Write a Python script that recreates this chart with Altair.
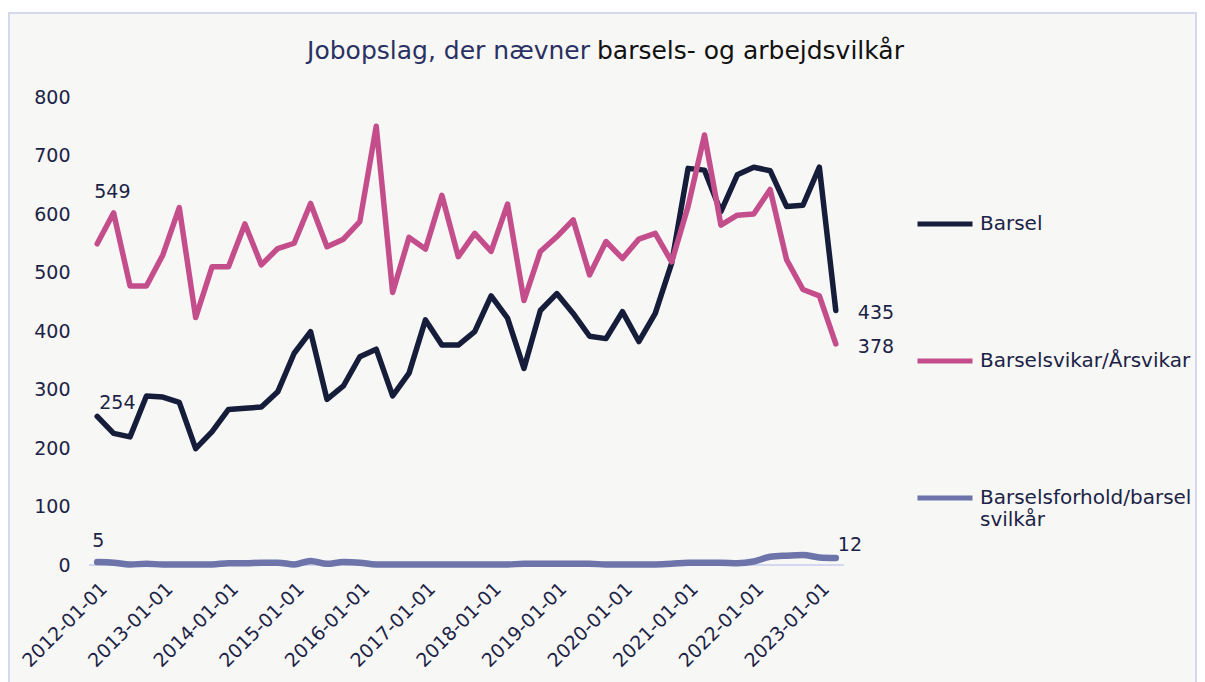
import altair as alt
import pandas as pd

# ---------------- data ----------------
quarters = [f"{y}-{m:02d}-01" for y in range(2012, 2024) for m in (1, 4, 7, 10)][:46]
year_ticks = [f"{y}-01-01" for y in range(2012, 2024)]

barsel = [254, 225, 219, 289, 287, 278, 199, 228, 266, 268, 270, 296, 362, 399, 283, 306,
          356, 369, 289, 328, 419, 376, 376, 399, 460, 422, 336, 435, 464, 430, 391, 387,
          433, 382, 430, 516, 678, 675, 604, 667, 680, 674, 613, 615, 680, 435]
vikar = [549, 602, 477, 477, 530, 611, 423, 510, 510, 583, 513, 541, 550, 618, 544, 557,
         587, 750, 466, 560, 540, 632, 527, 567, 536, 617, 452, 536, 561, 590, 496, 553,
         524, 557, 567, 518, 613, 735, 581, 598, 600, 642, 522, 471, 460, 378]
forhold = [5, 4, 1, 2, 1, 1, 1, 1, 3, 3, 4, 4, 1, 7, 2, 5,
           4, 1, 1, 1, 1, 1, 1, 1, 1, 1, 2, 2, 2, 2, 2, 1,
           1, 1, 1, 2, 4, 4, 4, 3, 6, 14, 16, 17, 13, 12]

names = ["Barsel", "Barselsvikar/Årsvikar", "Barselsforhold/barselsvilkår"]
colors = ["#161d3b", "#c44e8b", "#6c74a9"]

rows = []
for name, vals in zip(names, [barsel, vikar, forhold]):
    for q, v in zip(quarters, vals):
        rows.append({"date": q, "value": v, "series": name})
df = pd.DataFrame(rows)

lab_rows = []
for name, vals in zip(names, [barsel, vikar, forhold]):
    lab_rows.append({"date": quarters[0], "value": vals[0], "series": name, "pos": "first"})
    lab_rows.append({"date": quarters[-1], "value": vals[-1], "series": name, "pos": "last"})
labels_df = pd.DataFrame(lab_rows)

# ---------------- styling ----------------
FONT = "DejaVu Sans"
TXT = "#1c2346"
W, H = 755, 468
PAD = {"left": 81, "top": 89, "right": 353, "bottom": 117}

x_enc = alt.X(
    "date:O",
    sort=quarters,
    scale=alt.Scale(type="point", padding=0.5),
    axis=alt.Axis(
        values=year_ticks, labelAngle=-45, title=None, ticks=False, domain=False,
        labelFontSize=19, labelColor=TXT, labelPadding=14, labelFont=FONT, zindex=1,
    ),
)
y_enc = alt.Y(
    "value:Q",
    scale=alt.Scale(domain=[0, 800]),
    axis=alt.Axis(
        values=list(range(0, 801, 100)), grid=False, ticks=False, domain=False,
        title=None, labelFontSize=19, labelColor=TXT, labelPadding=19, labelFont=FONT,
        zindex=1,
    ),
)

color_enc = alt.Color(
    "series:N",
    scale=alt.Scale(domain=names, range=colors),
    legend=alt.Legend(
        orient="none", legendX=826, legendY=97, title=None,
        symbolType="stroke", symbolSize=3025, symbolStrokeWidth=5,
        labelFontSize=20, labelFont=FONT, labelColor=TXT, labelOffset=5,
        labelLimit=400, rowPadding=97, padding=0, zindex=1,
        labelExpr="datum.label == 'Barselsforhold/barselsvilkår' ? ['Barselsforhold/barsel', 'svilkår'] : datum.label",
    ),
)

dummy = pd.DataFrame({"a": [0]})

background = alt.Chart(dummy).mark_rect(
    fill="#f7f7f5", stroke="#d5d9f0", strokeWidth=2
).encode(x=alt.value(-80), x2=alt.value(1107), y=alt.value(-84), y2=alt.value(600))

baseline = alt.Chart(dummy).mark_rule(color="#d3d7ef", strokeWidth=2).encode(
    y=alt.datum(0, type="quantitative"), x=alt.value(0), x2=alt.value(W)
)

base = alt.Chart(df)

main_lines = base.transform_filter(
    alt.FieldOneOfPredicate(field="series", oneOf=names[:2])
).mark_line(strokeWidth=5.5, strokeCap="round", strokeJoin="round").encode(
    x=x_enc, y=y_enc, color=color_enc
)

small_line = base.transform_filter(
    alt.FieldEqualPredicate(field="series", equal=names[2])
).mark_line(strokeWidth=6.5, strokeCap="round", interpolate="monotone").encode(
    x=x_enc, y=y_enc, color=color_enc
)

# data labels (series, position, dx, dy, align)
label_specs = [
    (names[0], "first", 2, -13, "left"),
    (names[1], "first", -3, -52, "left"),
    (names[2], "first", -5, -21, "left"),
    (names[0], "last", 22, 2, "left"),
    (names[1], "last", 22, 3, "left"),
    (names[2], "last", 2, -13, "left"),
]
label_layers = []
for s, p, dx, dy, al in label_specs:
    label_layers.append(
        alt.Chart(labels_df).transform_filter(
            (alt.datum.series == s) & (alt.datum.pos == p)
        ).mark_text(
            dx=dx, dy=dy, align=al, baseline="middle", fontSize=19, font=FONT, color=TXT
        ).encode(x=x_enc, y=y_enc, text="value:Q")
    )

title1 = alt.Chart(dummy).mark_text(
    text="Jobopslag, der nævner", align="right", baseline="alphabetic",
    fontSize=25, font=FONT, color="#2a3163",
).encode(x=alt.value(501), y=alt.value(-38))
title2 = alt.Chart(dummy).mark_text(
    text="barsels- og arbejdsvilkår", align="left", baseline="alphabetic",
    fontSize=25, font=FONT, color="#111111",
).encode(x=alt.value(508), y=alt.value(-38))

chart = alt.layer(
    background, baseline, small_line, main_lines, *label_layers, title1, title2
).properties(
    width=W, height=H, padding=PAD,
    autosize=alt.AutoSizeParams(type="none"),
).configure(
    background="white", font=FONT,
).configure_view(stroke=None)

chart.save("out.html", embed_options={"renderer": "svg", "actions": False})
